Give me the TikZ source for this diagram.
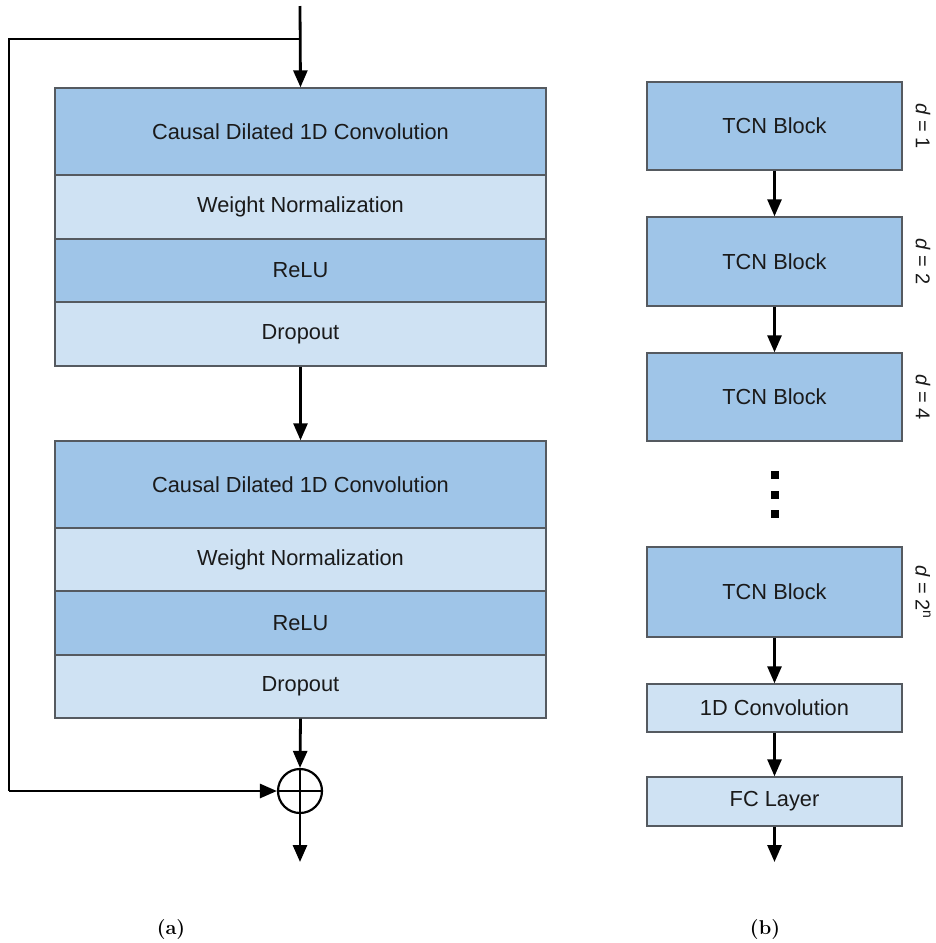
\documentclass[tikz,border=0pt]{standalone}
\usepackage{fontspec}
\newfontfamily\boxfont{Liberation Sans}
\usetikzlibrary{arrows.meta}

\definecolor{darkrow}{HTML}{9FC5E8}
\definecolor{lightrow}{HTML}{CFE2F3}
\definecolor{rowborder}{HTML}{555A60}
\definecolor{labeltext}{HTML}{1A1A1A}

\tikzset{
  layer/.style={draw=rowborder, line width=1.4pt, inner sep=0pt,
    text=labeltext, font=\boxfont\fontsize{21.8}{26}\selectfont},
  wide/.style={layer, minimum width=491pt},
  narrow/.style={layer, minimum width=255pt},
  dk/.style={fill=darkrow},
  lt/.style={fill=lightrow},
  wire/.style={line width=2.8pt, black},
  arr/.style={wire, -{Triangle[length=17pt,width=14pt]}},
  dlabel/.style={rotate=-90, text=labeltext, font=\boxfont\fontsize{20}{24}\selectfont},
  caption/.style={font=\rmfamily\bfseries\fontsize{20}{24}\selectfont},
  dot/.style={fill=black, minimum size=8pt, inner sep=0pt}
}

\begin{document}
\begin{tikzpicture}[x=1pt, y=-1pt]
\useasboundingbox (0,0) rectangle (936,943);

% ---- (a) residual block ----
\node[wide, dk, minimum height=87pt] (c1) at (300.5,131.5) {Causal Dilated 1D Convolution};
\node[wide, lt, minimum height=64pt] (w1) at (300.5,207) {Weight Normalization};
\node[wide, dk, minimum height=63pt] (r1) at (300.5,270.5) {ReLU};
\node[wide, lt, minimum height=64pt] (p1) at (300.5,334) {Dropout};

\node[wide, dk, minimum height=87pt] (c2) at (300.5,484.5) {Causal Dilated 1D Convolution};
\node[wide, lt, minimum height=63pt] (w2) at (300.5,559.5) {Weight Normalization};
\node[wide, dk, minimum height=64pt] (r2) at (300.5,623) {ReLU};
\node[wide, lt, minimum height=63pt] (p2) at (300.5,686.5) {Dropout};

\node[circle, draw=black, line width=2.2pt, minimum size=44pt, inner sep=0pt] (sum) at (300,791) {};
\draw[line width=2pt] (sum.north) -- (sum.south) (sum.west) -- (sum.east);

\coordinate (in) at (300,6);
\coordinate (split) at (300,39);
\coordinate (lft) at (9,791);
\coordinate (out) at (300,862);

\draw[arr] (in) -- (c1.north);
\draw[wire, line join=miter] (split) -| (lft);
\draw[arr] (lft) -- (sum.west);
\draw[arr] (p1.south) -- (c2.north);
\draw[arr] (p2.south) -- (sum.north);
\draw[arr] (sum.south) -- (out);

\node[caption] (capa) at (171,929) {(a)};

% ---- (b) stacked TCN ----
\node[narrow, dk, minimum height=88pt] (t1) at (774.5,126) {TCN Block};
\node[narrow, dk, minimum height=89pt] (t2) at (774.5,261.5) {TCN Block};
\node[narrow, dk, minimum height=88pt] (t3) at (774.5,397) {TCN Block};
\node[narrow, dk, minimum height=90pt] (t4) at (774.5,592) {TCN Block};
\node[narrow, lt, minimum height=48pt] (cv) at (774.5,708) {1D Convolution};
\node[narrow, lt, minimum height=49pt] (fc) at (774.5,801.5) {FC Layer};

\node[dot] (d1) at (775,475) {};
\node[dot] (d2) at (775,495) {};
\node[dot] (d3) at (775,514) {};

\coordinate (outb) at (774.5,862);
\draw[arr] (t1.south) -- (t2.north);
\draw[arr] (t2.south) -- (t3.north);
\draw[arr] (t4.south) -- (cv.north);
\draw[arr] (cv.south) -- (fc.north);
\draw[arr] (fc.south) -- (outb);

\node[dlabel] (l1) at (923,126) {\textit{d} = 1};
\node[dlabel] (l2) at (923,261.5) {\textit{d} = 2};
\node[dlabel] (l3) at (923,397) {\textit{d} = 4};
\node[dlabel] (l4) at (923,592) {\textit{d} = 2\textsuperscript{n}};

\node[caption] (capb) at (765,929) {(b)};
\end{tikzpicture}
\end{document}
